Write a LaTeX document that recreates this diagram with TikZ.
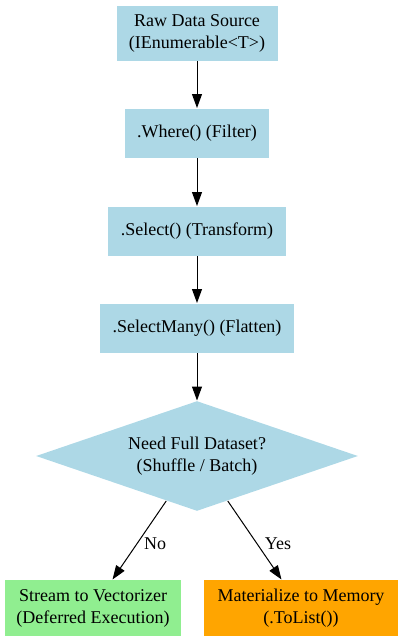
\documentclass[tikz,border=0pt]{standalone}
\usepackage{fontspec}
\setmainfont{Liberation Serif}
\usepackage{tikz}
\usepackage{xcolor}
\usetikzlibrary{shapes}
\usetikzlibrary{positioning, arrows.meta}

\definecolor{boxblue}{HTML}{ADD8E6}
\definecolor{boxgreen}{HTML}{90EE90}
\definecolor{boxorange}{HTML}{FFA500}

\begin{document}
\begin{tikzpicture}[x=1pt, y=1pt, >={Triangle[length=14pt, width=10pt]}, node distance={98pt}, line width=1pt,
    main/.style = {fill=boxblue, align=center, inner sep=0pt, font=\fontsize{18}{22}\selectfont},
    choice/.style = {main, diamond, aspect=2.9},
    lbl/.style = {inner sep=2pt, font=\fontsize{18}{22}\selectfont}]

    \useasboundingbox (0,0) rectangle (403,-641);

    \node[main, minimum width=161pt, minimum height=55pt] (raw) at (197,-33) {Raw Data Source\\(IEnumerable<T>)};
    \node[main, minimum width=144pt, minimum height=49pt] (where) [below of=raw, node distance=100pt] {.Where() (Filter)};
    \node[main, minimum width=178pt, minimum height=49pt] (select) [below of=where] {.Select() (Transform)};
    \node[main, minimum width=194pt, minimum height=49pt] (many) [below of=select, node distance=97pt] {.SelectMany() (Flatten)};
    \node[choice, minimum width=322pt, minimum height=110pt] (need) [below of=many, node distance=128pt] {Need Full Dataset?\\(Shuffle / Batch)};
    \node[main, fill=boxgreen, minimum width=176pt, minimum height=56pt] (stream) [below of=need, node distance=152pt, xshift=-104pt] {Stream to Vectorizer\\(Deferred Execution)};
    \node[main, fill=boxorange, minimum width=194pt, minimum height=56pt] (mat) [below of=need, node distance=152pt, xshift=104pt] {Materialize to Memory\\(.ToList())};

    \draw[->] (raw) -- (where);
    \draw[->] (where) -- (select);
    \draw[->] (select) -- (many);
    \draw[->] (many) -- (need);
    \draw[->] (need) -- node[lbl, pos=0.55, right=5pt] {No} (stream);
    \draw[->] (need) -- node[lbl, pos=0.55, right=5pt] {Yes} (mat);
\end{tikzpicture}
\end{document}
